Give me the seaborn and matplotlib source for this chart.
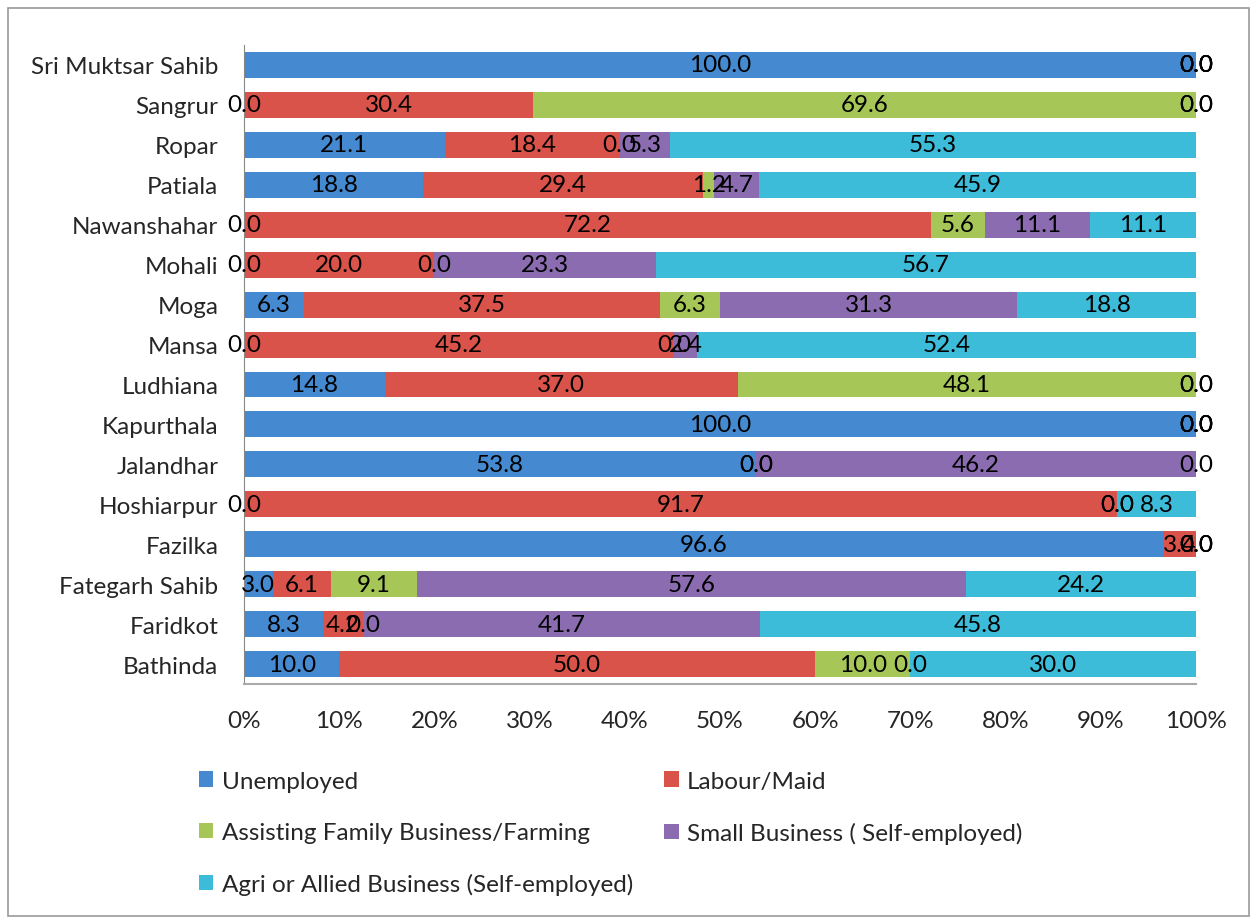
import numpy as np
import pandas as pd
import matplotlib
matplotlib.use("Agg")
import matplotlib.pyplot as plt
import seaborn as sns
from matplotlib.patches import Patch, Rectangle

districts = ["Sri Muktsar Sahib", "Sangrur", "Ropar", "Patiala", "Nawanshahar",
             "Mohali", "Moga", "Mansa", "Ludhiana", "Kapurthala", "Jalandhar",
             "Hoshiarpur", "Fazilka", "Fategarh Sahib", "Faridkot", "Bathinda"]
series_names = ["Unemployed", "Labour/Maid", "Assisting Family Business/Farming",
                "Small Business ( Self-employed)", "Agri or Allied Business (Self-employed)"]
unemployed = [100.0, 0.0, 21.1, 18.8, 0.0, 0.0, 6.3, 0.0, 14.8, 100.0, 53.8, 0.0, 96.6, 3.0, 8.3, 10.0]
labour     = [0.0, 30.4, 18.4, 29.4, 72.2, 20.0, 37.5, 45.2, 37.0, 0.0, 0.0, 91.7, 3.4, 6.1, 4.2, 50.0]
assisting  = [0.0, 69.6, 0.0, 1.2, 5.6, 0.0, 6.3, 0.0, 48.1, 0.0, 0.0, 0.0, 0.0, 9.1, 0.0, 10.0]
small_biz  = [0.0, 0.0, 5.3, 4.7, 11.1, 23.3, 31.3, 2.4, 0.0, 0.0, 46.2, 0.0, 0.0, 57.6, 41.7, 0.0]
agri       = [0.0, 0.0, 55.3, 45.9, 11.1, 56.7, 18.8, 52.4, 0.0, 0.0, 0.0, 8.3, 0.0, 24.2, 45.8, 30.0]
colors = ["#4589d0", "#d9534a", "#a6c757", "#8b6cb1", "#3dbcd9"]

sns.set_style("white")
plt.rcParams["font.family"] = ["Lato", "DejaVu Sans"]
FS = 17.5

vals = np.array([unemployed, labour, assisting, small_biz, agri])
totals = vals.sum(axis=0)
pct = vals / totals * 100
cum = np.cumsum(pct, axis=0)

fig = plt.figure(figsize=(12.54, 9.2), dpi=100)
ax = fig.add_axes([0.1946, 0.2554, 0.7591, 0.6946])

for i in range(4, -1, -1):
    df = pd.DataFrame({"district": districts, "value": cum[i]})
    sns.barplot(data=df, x="value", y="district", order=districts, color=colors[i],
                saturation=1, width=0.65, orient="h", ax=ax, linewidth=0)

for i in range(5):
    for j, d in enumerate(districts):
        xc = cum[i][j] - pct[i][j] / 2
        ax.text(xc, j, f"{vals[i][j]:.1f}", ha="center", va="center", fontsize=FS, color="black")

ax.set_xlim(0, 100)
ax.set_ylim(15.5, -0.5)
ax.set_xticks(np.arange(0, 101, 10))
ax.set_xticklabels([f"{t}%" for t in range(0, 101, 10)], fontsize=FS)
ax.tick_params(axis="y", labelsize=FS, length=0, pad=18.5)
ax.tick_params(axis="x", length=0, pad=19)
ax.set_xlabel("")
ax.set_ylabel("")
for s in ["top", "right"]:
    ax.spines[s].set_visible(False)
ax.spines["left"].set_color("#888888")
ax.spines["bottom"].set_color("#aaaaaa")
ax.spines["bottom"].set_linewidth(1.5)

handles = [Patch(facecolor=c, edgecolor="none") for c in colors]
order = [0, 2, 4, 1, 3]
fig.legend([handles[k] for k in order], [series_names[k] for k in order],
           loc="upper left", bbox_to_anchor=(0.141, 0.185), ncol=2, frameon=False,
           fontsize=FS, handlelength=0.6, handleheight=0.6, handletextpad=0.35,
           labelspacing=1.24, columnspacing=1.28)

fig.patches.append(Rectangle((0.006, 0.003), 0.99, 0.987, transform=fig.transFigure,
                             fill=False, edgecolor="#999999", linewidth=1.2))

fig.savefig("out.png", dpi=100)
